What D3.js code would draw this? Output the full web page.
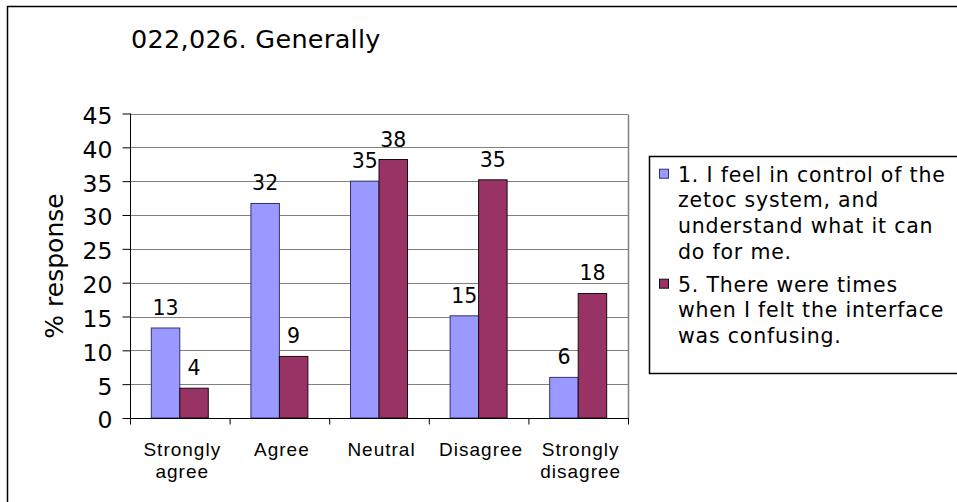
<!DOCTYPE html>
<html>
<head>
<meta charset="utf-8">
<script src="https://cdn.jsdelivr.net/npm/d3@7"></script>
<style>
  html, body { margin: 0; padding: 0; background: #fff; }
  svg { display: block; }
</style>
</head>
<body>
<svg id="chart" width="957" height="502"></svg>
<script>
// ---- data ----
const title = "022,026. Generally";
const yAxisTitle = "% response";
const categories = ["Strongly agree", "Agree", "Neutral", "Disagree", "Strongly disagree"];
const categoryLines = [["Strongly", "agree"], ["Agree"], ["Neutral"], ["Disagree"], ["Strongly", "disagree"]];
const seriesNames = ["s1", "s5"];
const series1 = [13.3, 31.7, 35.0, 15.1, 6.0];
const series5 = [4.4, 9.1, 38.2, 35.2, 18.4];
const yTicks = [0, 5, 10, 15, 20, 25, 30, 35, 40, 45];
const legendLines1 = ["1. I feel in control of the", "zetoc system, and", "understand what it can", "do for me."];
const legendLines5 = ["5. There were times", "when I felt the interface", "was confusing."];
const colors = ["#9999FF", "#993366"];

// ---- layout ----
const svg = d3.select("#chart");
const plot = { left: 130, right: 628, top: 113.5, bottom: 418 };
const verdana = "Verdana, 'DejaVu Sans', sans-serif";
const arial = "Arial, 'Liberation Sans', sans-serif";

// outer chart border
svg.append("rect")
  .attr("x", 7.5).attr("y", 6.5)
  .attr("width", 1000).attr("height", 1000)
  .attr("fill", "#fff").attr("stroke", "#000").attr("stroke-width", 1.5);

// title
svg.append("text")
  .attr("x", 131).attr("y", 48)
  .attr("font-family", verdana).attr("font-size", 25.5)
  .attr("letter-spacing", 0.3)
  .attr("fill", "#000")
  .text(title);

// scales
const y = d3.scaleLinear().domain([0, 45]).range([plot.bottom, plot.top]);
const x0 = d3.scaleBand().domain(categories).range([plot.left, plot.right])
  .paddingInner(0.428).paddingOuter(0.214);
const x1 = d3.scaleBand().domain(seriesNames).range([0, x0.bandwidth()]);
const xEdge = d3.scaleLinear().domain([0, categories.length]).range([plot.left, plot.right]);

// gridlines
svg.append("g")
  .selectAll("line").data(yTicks.filter(d => d > 0)).join("line")
  .attr("x1", plot.left).attr("x2", plot.right)
  .attr("y1", d => Math.round(y(d)) + 0.5).attr("y2", d => Math.round(y(d)) + 0.5)
  .attr("stroke", "#808080").attr("stroke-width", 1);

// plot right border
svg.append("line")
  .attr("x1", plot.right + 0.5).attr("x2", plot.right + 0.5)
  .attr("y1", Math.round(plot.top) + 0.5).attr("y2", plot.bottom)
  .attr("stroke", "#808080").attr("stroke-width", 1.5);

// bars
const data = categories.map((c, i) => ({ cat: c, vals: [series1[i], series5[i]] }));
const groups = svg.append("g").selectAll("g").data(data).join("g")
  .attr("transform", d => `translate(${x0(d.cat)},0)`);
groups.selectAll("rect").data(d => d.vals.map((v, j) => ({ v, j }))).join("rect")
  .attr("x", d => x1(seriesNames[d.j]))
  .attr("y", d => y(d.v))
  .attr("width", x1.bandwidth())
  .attr("height", d => plot.bottom - y(d.v))
  .attr("fill", d => colors[d.j])
  .attr("stroke", d => d.j === 0 ? "#33336a" : "#1a0a12")
  .attr("stroke-width", 1);

// value labels
groups.selectAll("text.val").data(d => d.vals.map((v, j) => ({ v, j }))).join("text")
  .attr("class", "val")
  .attr("x", d => x1(seriesNames[d.j]) + x1.bandwidth() / 2)
  .attr("y", d => y(d.v) - 13)
  .attr("text-anchor", "middle")
  .attr("font-family", verdana).attr("font-size", 20.5)
  .attr("fill", "#000")
  .text(d => Math.round(d.v));

// y axis
const yAxis = d3.axisLeft(y).tickValues(yTicks).tickSize(8).tickPadding(10);
const gy = svg.append("g").attr("transform", `translate(${plot.left + 0.5},0)`).call(yAxis);
gy.select(".domain").attr("stroke", "#000").attr("d", `M0,${plot.top}V${plot.bottom}`);
gy.selectAll(".tick line").attr("stroke", "#000");
gy.selectAll(".tick text")
  .attr("font-family", verdana).attr("font-size", 23.5)
  .attr("fill", "#000").attr("dy", "0.42em");

// x axis (category edge ticks)
const xAxis = d3.axisBottom(xEdge).tickValues(d3.range(categories.length + 1))
  .tickSize(6).tickFormat("");
const gx = svg.append("g").attr("transform", `translate(0,${plot.bottom + 0.5})`).call(xAxis);
gx.select(".domain").attr("stroke", "#000").attr("d", `M${plot.left},0H${plot.right + 1}`);
gx.selectAll(".tick line").attr("stroke", "#000");

// category labels
const catLabels = svg.append("g").selectAll("text").data(categories).join("text")
  .attr("x", d => x0(d) + x0.bandwidth() / 2 + 2.5)
  .attr("y", 456)
  .attr("text-anchor", "middle")
  .attr("font-family", arial).attr("font-size", 19)
  .attr("letter-spacing", 1)
  .attr("fill", "#000");
catLabels.selectAll("tspan").data((d, i) => categoryLines[i]).join("tspan")
  .attr("x", function() { return d3.select(this.parentNode).attr("x"); })
  .attr("dy", (d, i) => i === 0 ? 0 : 22)
  .text(d => d);

// y axis title
svg.append("text")
  .attr("transform", `translate(63,266) rotate(-90)`)
  .attr("text-anchor", "middle")
  .attr("font-family", verdana).attr("font-size", 25)
  .attr("fill", "#000")
  .text(yAxisTitle);

// legend
const legend = svg.append("g");
legend.append("rect")
  .attr("x", 649.5).attr("y", 156.5).attr("width", 400).attr("height", 217)
  .attr("fill", "#fff").attr("stroke", "#000").attr("stroke-width", 1.5);
const legendItems = [
  { lines: legendLines1, color: colors[0], stroke: "#33336a", base: 181.7 },
  { lines: legendLines5, color: colors[1], stroke: "#1a0a12", base: 291.7 }
];
legendItems.forEach(item => {
  legend.append("rect")
    .attr("x", 659.5).attr("y", item.base - 12.5).attr("width", 9).attr("height", 9)
    .attr("fill", item.color).attr("stroke", item.stroke).attr("stroke-width", 1);
  const t = legend.append("text")
    .attr("font-family", verdana).attr("font-size", 20.5)
    .attr("letter-spacing", 0.8)
    .attr("fill", "#000");
  t.selectAll("tspan").data(item.lines).join("tspan")
    .attr("x", 678).attr("y", (d, i) => item.base + i * 25.7)
    .text(d => d);
});
</script>
</body>
</html>
